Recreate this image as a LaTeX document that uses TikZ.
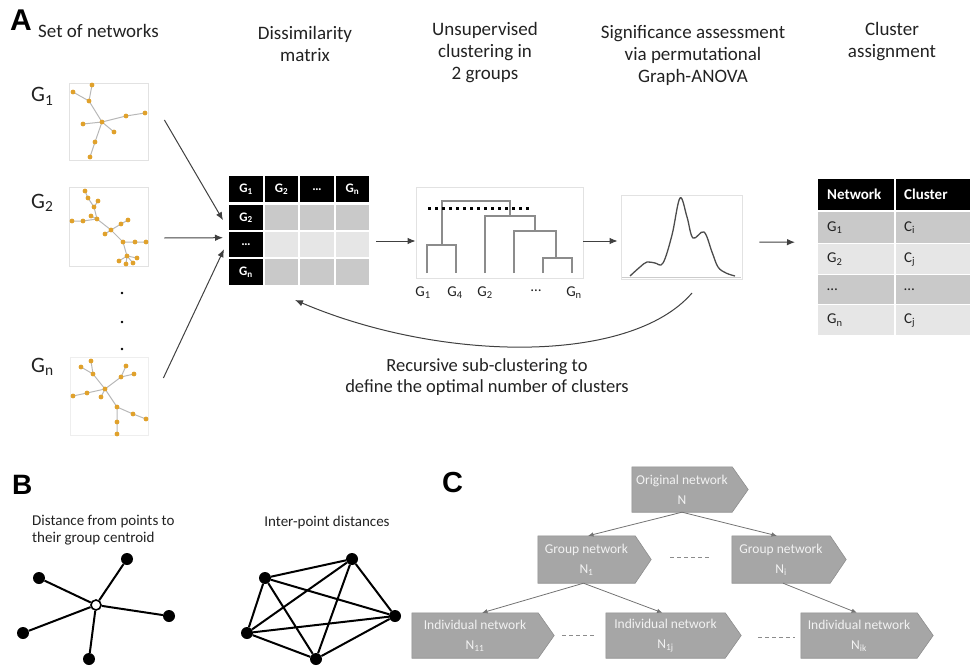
\documentclass[tikz,border=0pt]{standalone}
\usepackage{fontspec}
\setmainfont{Carlito}
\newfontfamily\panelfont{Liberation Sans}
\usetikzlibrary{arrows.meta,backgrounds}
\definecolor{nodeor}{HTML}{E0A12B}
\definecolor{edgegr}{HTML}{B8B8B8}
\definecolor{boxgr}{HTML}{E2E2E2}
\definecolor{celldark}{HTML}{C9C9C9}
\definecolor{celllight}{HTML}{E6E6E6}
\definecolor{dendgr}{HTML}{8C8C8C}
\definecolor{sigfill}{HTML}{A6A6A6}
\definecolor{sigdraw}{HTML}{8E8E8E}
\definecolor{txt}{HTML}{222222}
\newcommand\netdots[1]{\foreach \p in {#1}{\fill[nodeor] (\p) circle (2.4pt);}}
\begin{document}
\begin{tikzpicture}[x=1pt,y=-1pt,
 hdr/.style={align=center,text=txt,font=\fontsize{19}{22}\selectfont,inner sep=0},
 panel/.style={anchor=north west,inner sep=0,font=\panelfont\bfseries\fontsize{30}{30}\selectfont},
 glab/.style={anchor=base west,inner sep=0,text=txt,font=\fontsize{22}{24}\selectfont},
 netbox/.style={draw=boxgr,line width=0.8pt,inner sep=0},
 ed/.style={draw=edgegr,line width=1pt},
 arr/.style={draw=black!75,line width=1pt,-{Latex[length=8pt,width=6.5pt]}},
 mcell/.style={anchor=north west,minimum width=33.5pt,inner sep=0,font=\bfseries\fontsize{13}{13}\selectfont},
 mhead/.style={mcell,fill=black,text=white},
 tcell/.style={anchor=north west,inner ysep=0,text width=58pt,align=left,text=txt,font=\fontsize{15}{15}\selectfont},
 thead/.style={tcell,fill=black,text=white,font=\bfseries\fontsize{15}{15}\selectfont},
 dend/.style={draw=dendgr,line width=2pt},
 dlab/.style={inner sep=0,text=txt,font=\fontsize{15}{15}\selectfont},
 bdot/.style={circle,fill=black,inner sep=0,minimum size=12pt},
 bopen/.style={circle,draw=black,fill=white,line width=1.6pt,inner sep=0,minimum size=10pt},
 bline/.style={draw=black,line width=2pt},
 sigt/.style={inner sep=0,minimum height=46pt,align=center,text=white!95!black,font=\fontsize{13.5}{20}\selectfont},
 carr/.style={draw=black!55,line width=0.8pt,-{Latex[length=5.5pt,width=4.5pt]}},
 dsh/.style={draw=black!45,line width=0.9pt,dash pattern=on 4pt off 3pt}
]
\useasboundingbox (0,0) rectangle (970,669);

% ---------- Panel A headers ----------
\node[panel] (pA) at (10,10) {A};
\node[hdr,anchor=west] (h1) at (38,31) {Set of networks};
\node[hdr] (h2) at (305,44) {Dissimilarity\\matrix};
\node[hdr] (h3) at (485,53) {Unsupervised\\clustering in\\2 groups};
\node[hdr] (h4) at (693,55) {Significance assessment\\via permutational\\Graph-ANOVA};
\node[hdr] (h5) at (892,42) {Cluster\\assignment};

% ---------- networks ----------
\node[glab] (gl1) at (31,102) {G\textsubscript{1}};
\node[glab] (gl2) at (31,208) {G\textsubscript{2}};
\node[glab] (gln) at (31,372) {G\textsubscript{n}};

\node[netbox,minimum width=79pt,minimum height=77pt] (nb1) at (108.5,121.5) {};
\node[netbox,minimum width=79pt,minimum height=79pt] (nb2) at (108.5,226.5) {};
\node[netbox,draw=boxgr!60,minimum width=78pt,minimum height=78pt] (nbn) at (109,396) {};

% G1
\coordinate (a1) at (92,85); \coordinate (a2) at (73,92); \coordinate (a3) at (89,101);
\coordinate (a4) at (83,124); \coordinate (a5) at (102,122); \coordinate (a6) at (126,116);
\coordinate (a7) at (145,113); \coordinate (a8) at (114,132); \coordinate (a9) at (95,142);
\coordinate (a10) at (90,157);
\draw[ed] (a1)--(a3) (a2)--(a3) (a3)--(a5) (a4)--(a5) (a5)--(a6)--(a7) (a5)--(a8) (a5)--(a9)--(a10);
\netdots{a1,a2,a3,a4,a5,a6,a7,a8,a9,a10}

% G2
\coordinate (b1) at (85,191); \coordinate (b2) at (88,198); \coordinate (b3) at (98,201);
\coordinate (b4) at (94,207); \coordinate (b5) at (91,216); \coordinate (b6) at (97,219);
\coordinate (b7) at (72,221); \coordinate (b8) at (83,221); \coordinate (b9) at (111,230);
\coordinate (b10) at (105,234); \coordinate (b11) at (121,224); \coordinate (b12) at (128,220);
\coordinate (b13) at (123,242); \coordinate (b14) at (135,242); \coordinate (b15) at (146,242);
\coordinate (b16) at (127,256); \coordinate (b17) at (119,261); \coordinate (b18) at (126,264);
\coordinate (b19) at (133,263); \coordinate (b20) at (137,258);
\draw[ed] (b1)--(b2)--(b4)--(b6) (b3)--(b4) (b5)--(b6) (b7)--(b8)--(b6) (b6)--(b9)
  (b9)--(b10) (b9)--(b11)--(b12) (b9)--(b13)--(b14)--(b15) (b13)--(b16)
  (b16)--(b17) (b16)--(b18) (b16)--(b19) (b16)--(b20);
\netdots{b1,b2,b3,b4,b5,b6,b7,b8,b9,b10,b11,b12,b13,b14,b15,b16,b17,b18,b19,b20}

% dots
\fill[black] (122,293) circle (1.3pt) (122,322) circle (1.3pt) (122,349) circle (1.3pt);

% Gn
\coordinate (c1) at (91,361); \coordinate (c2) at (81,367); \coordinate (c3) at (93,374);
\coordinate (c4) at (126,366); \coordinate (c5) at (134,374); \coordinate (c6) at (121,377);
\coordinate (c7) at (105,389); \coordinate (c8) at (87,393); \coordinate (c9) at (73,396);
\coordinate (c10) at (101,397); \coordinate (c11) at (117,407); \coordinate (c12) at (133,414);
\coordinate (c13) at (146,419); \coordinate (c14) at (117,422); \coordinate (c15) at (117,434);
\draw[ed] (c1)--(c3) (c2)--(c3) (c3)--(c7) (c4)--(c6) (c5)--(c6) (c6)--(c7)
  (c7)--(c8)--(c9) (c7)--(c10) (c7)--(c11)--(c12)--(c13) (c11)--(c14)--(c15);
\netdots{c1,c2,c3,c4,c5,c6,c7,c8,c9,c10,c11,c12,c13,c14,c15}

% ---------- dissimilarity matrix ----------
\node[mhead,minimum height=26pt] (m00) at (229,176) {G\textsubscript{1}};
\node[mhead,minimum height=26pt] (m01) at (264.5,176) {G\textsubscript{2}};
\node[mhead,minimum height=26pt] (m02) at (300,176) {…};
\node[mhead,minimum height=26pt] (m03) at (335.5,176) {G\textsubscript{n}};
\node[mhead,minimum height=25pt] (m10) at (229,205) {G\textsubscript{2}};
\node[mcell,fill=celldark,minimum height=25pt] (m11) at (264.5,205) {};
\node[mcell,fill=celldark,minimum height=25pt] (m12) at (300,205) {};
\node[mcell,fill=celldark,minimum height=25pt] (m13) at (335.5,205) {};
\node[mhead,minimum height=25pt] (m20) at (229,232) {…};
\node[mcell,fill=celllight,minimum height=25pt] (m21) at (264.5,232) {};
\node[mcell,fill=celllight,minimum height=25pt] (m22) at (300,232) {};
\node[mcell,fill=celllight,minimum height=25pt] (m23) at (335.5,232) {};
\node[mhead,minimum height=26pt] (m30) at (229,259) {G\textsubscript{n}};
\node[mcell,fill=celldark,minimum height=26pt] (m31) at (264.5,259) {};
\node[mcell,fill=celldark,minimum height=26pt] (m32) at (300,259) {};
\node[mcell,fill=celldark,minimum height=26pt] (m33) at (335.5,259) {};

% arrows networks -> matrix
\draw[arr] ([xshift=16pt,yshift=1.5pt]nb1.east) -- ([xshift=-6pt,yshift=-2.5pt]m10.west);
\draw[arr] ([shift={(16pt,-11.5pt)}]nb2.east) -- ([xshift=-6pt,yshift=7pt]m20.west);
\draw[arr] ([shift={(15pt,18pt)}]nbn.east) -- ([xshift=-5pt,yshift=-4.5pt]m20.west);

% ---------- dendrogram ----------
\node[netbox,minimum width=167pt,minimum height=91pt] (den) at (499.5,232.5) {};
\draw[dend] (427,273) -- (427,245) -- (456,245) -- (456,273);
\draw[dend] (442,245) -- (442,201) -- (510,201) -- (510,216);
\draw[dend] (485,273) -- (485,216) -- (535,216) -- (535,231);
\draw[dend] (514,273) -- (514,231) -- (556,231) -- (556,258);
\draw[dend] (543,273) -- (543,258) -- (572,258) -- (572,273);
\draw[black,line width=3pt,dash pattern=on 3pt off 4pt] (428,208) -- (532,208);
\node[dlab] (dl1) at (423,293) {G\textsubscript{1}};
\node[dlab] (dl2) at (455,293) {G\textsubscript{4}};
\node[dlab] (dl3) at (485,293) {G\textsubscript{2}};
\node[dlab] (dl4) at (536,291) {…};
\node[dlab] (dl5) at (574,293) {G\textsubscript{n}};

\coordinate (matR) at (376,241);
\draw[arr] (matR) -- ([yshift=-8.5pt]den.west);

% ---------- density ----------
\node[netbox,minimum width=121pt,minimum height=84pt] (dens) at (681.5,237) {};
\draw[black!20,line width=0.8pt] (622,277.5) -- (741,277.5);
\draw[black!70,line width=1.3pt] plot[smooth,tension=0.6] coordinates {(630,276) (640,267) (647,262) (655,263) (663,263) (672,235) (680,198) (687,217) (693,238) (704,232) (712,252) (718,267) (726,273) (735,276)};
\draw[arr] ([yshift=-8.5pt]den.east) -- ([xshift=-3pt,yshift=-4pt]dens.west);

% ---------- cluster table ----------
\node[thead,inner xsep=9pt,minimum height=31pt] (t00) at (818,179) {Network};
\node[thead,inner xsep=8pt,minimum height=31pt] (t01) at (896,179) {Cluster};
\node[tcell,inner xsep=9pt,fill=celldark,minimum height=31pt] (t10) at (818,212) {G\textsubscript{1}};
\node[tcell,inner xsep=8pt,fill=celldark,minimum height=31pt] (t11) at (896,212) {C\textsubscript{i}};
\node[tcell,inner xsep=9pt,fill=celllight,minimum height=30pt] (t20) at (818,244) {G\textsubscript{2}};
\node[tcell,inner xsep=8pt,fill=celllight,minimum height=30pt] (t21) at (896,244) {C\textsubscript{j}};
\node[tcell,inner xsep=9pt,fill=celldark,minimum height=29pt] (t30) at (818,275) {…};
\node[tcell,inner xsep=8pt,fill=celldark,minimum height=29pt] (t31) at (896,275) {…};
\node[tcell,inner xsep=9pt,fill=celllight,minimum height=30pt] (t40) at (818,305) {G\textsubscript{n}};
\node[tcell,inner xsep=8pt,fill=celllight,minimum height=30pt] (t41) at (896,305) {C\textsubscript{j}};
\draw[arr] ([xshift=17pt,yshift=-5pt]dens.east) -- ([xshift=-23pt,yshift=-14.5pt]t10.west);

% ---------- recursive arrow ----------
\coordinate (recS) at (692,293);
\coordinate (recE) at (295,300);
\draw[arr] (recS) .. controls (630,365) and (440,362) .. (recE);
\node[hdr,font=\fontsize{18.5}{21}\selectfont] (rec) at (487,377) {Recursive sub-clustering to\\define the optimal number of clusters};

% ---------- Panel B ----------
\node[panel,font=\panelfont\bfseries\fontsize{28}{28}\selectfont] (pB) at (12,475) {B};
\node[anchor=west,align=left,inner sep=0,text=txt,font=\fontsize{15}{16.7}\selectfont] (bt1) at (32,530) {Distance from points to\\their group centroid};
\node[inner sep=0,text=txt,font=\fontsize{15}{16.7}\selectfont] (bt2) at (327,522) {Inter-point distances};

\node[bopen] (s0) at (96,605) {};
\node[bdot] (s1) at (39,578) {};
\node[bdot] (s2) at (127,559) {};
\node[bdot] (s3) at (169,616) {};
\node[bdot] (s4) at (23,633) {};
\node[bdot] (s5) at (89,659) {};
\begin{scope}[on background layer]
\foreach \s in {s1,s2,s3,s4,s5} \draw[bline] (s0) -- (\s);
\end{scope}

\node[bdot] (k1) at (265,578) {};
\node[bdot] (k2) at (352,559) {};
\node[bdot] (k3) at (395,616) {};
\node[bdot] (k4) at (247,633) {};
\node[bdot] (k5) at (316,659) {};
\draw[bline] (k1)--(k2) (k1)--(k3) (k1)--(k4) (k1)--(k5) (k2)--(k3) (k2)--(k4) (k2)--(k5) (k3)--(k4) (k3)--(k5) (k4)--(k5);

% ---------- Panel C ----------
\node[panel,font=\panelfont\bfseries\fontsize{29}{29}\selectfont] (pC) at (442,472) {C};
\node[sigt,minimum width=100pt,minimum height=45pt] (orig) at (682,489.5) {Original network\\N};
\node[sigt,minimum width=97pt,minimum height=47pt] (n1) at (586.5,559.5) {Group network\\N\textsubscript{1}};
\node[sigt,minimum width=98pt,minimum height=47pt] (ni) at (781,559.5) {Group network\\N\textsubscript{i}};
\node[sigt,minimum width=126pt,minimum height=45pt] (n11) at (475,635.5) {Individual network\\N\textsubscript{11}};
\node[sigt,minimum width=119pt,minimum height=45pt] (n1j) at (665.5,635.5) {Individual network\\N\textsubscript{1j}};
\node[sigt,minimum width=116pt,minimum height=45pt] (nik) at (859,635.5) {Individual network\\N\textsubscript{ik}};
\begin{scope}[on background layer]
\foreach \n in {orig,n1,ni,n11,n1j,nik}
  \filldraw[fill=sigfill,draw=sigdraw,line width=0.6pt] (\n.north west) -- (\n.north east) -- ([xshift=16pt]\n.east) -- (\n.south east) -- (\n.south west) -- cycle;
\end{scope}
\draw[carr] (orig.south) -- ([xshift=1.5pt]n1.north);
\draw[carr] (orig.south) -- ([xshift=-4pt]ni.north);
\draw[carr] ([xshift=-3pt]n1.south) -- ([xshift=7pt]n11.north);
\draw[carr] ([xshift=-3pt]n1.south) -- ([xshift=-3pt]n1j.north);
\draw[carr] ([xshift=2pt]ni.south) -- ([xshift=-2pt]nik.north);
\draw[dsh,shorten <=35pt,shorten >=20pt] ([yshift=2.5pt]n1.east) -- ([yshift=2.5pt]ni.west);
\draw[dsh,shorten <=24pt,shorten >=9pt] (n11.east) -- (n1j.west);
\draw[dsh,shorten <=33pt,shorten >=6pt] ([yshift=-1.5pt]n1j.east) -- ([yshift=-1.5pt]nik.west);
\end{tikzpicture}
\end{document}
